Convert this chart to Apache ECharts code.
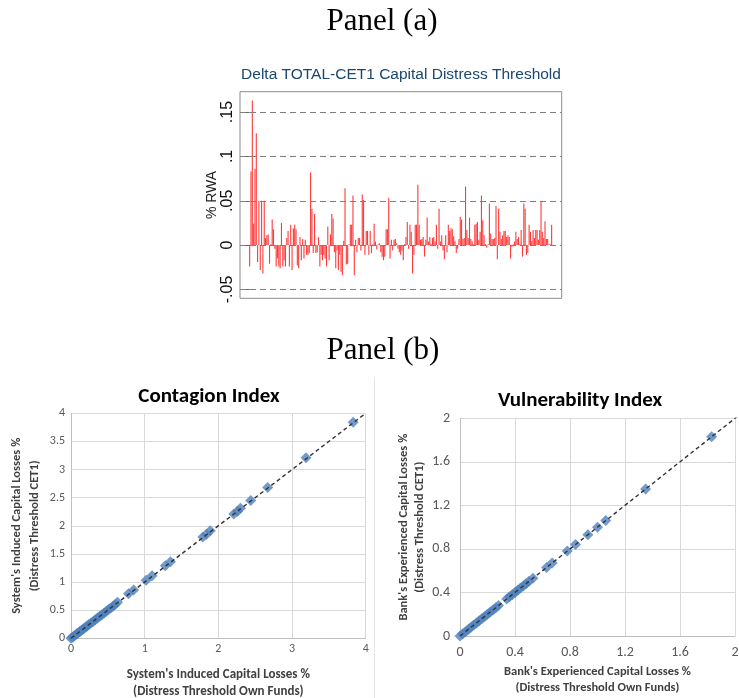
<!DOCTYPE html>
<html>
<head>
<meta charset="utf-8">
<script src="https://cdn.jsdelivr.net/npm/echarts@6/dist/echarts.min.js"></script>
<style>
html,body{margin:0;padding:0;background:#fff;}
#c{width:739px;height:698px;}
</style>
</head>
<body>
<div id="c"></div>
<script>
// ---------- Panel (a): Delta TOTAL-CET1 capital distress threshold (% RWA) ----------
const deltaValues = [
-0.024,0.083,0.163,0.024,0.086,0.126,-0.019,0.050,-0.028,0.050,-0.032,0.050,0.008,0.011,0.012,-0.021,0.001,0.029,0.018,-0.004,-0.024,-0.015,-0.024,-0.026,0.025,-0.024,-0.017,-0.024,0.008,0.016,-0.024,0.023,-0.028,0.019,0.023,0.018,-0.023,-0.026,0.009,-0.017,0.007,-0.015,0.006,-0.011,
-0.011,-0.009,0.082,0.041,-0.009,0.035,-0.009,-0.008,0.009,-0.024,-0.011,-0.017,-0.011,-0.015,-0.024,0.021,-0.017,0.012,0.035,0.030,-0.008,-0.026,-0.006,-0.028,-0.011,-0.030,-0.034,0.005,0.064,-0.022,-0.021,0.001,0.023,0.023,0.056,-0.034,0.006,-0.008,0.008,0.008,-0.006,0.057,0.051,-0.011,0.016,
0.016,-0.011,0.016,-0.009,0.001,0.024,0.004,-0.005,0.001,0.002,-0.008,-0.013,-0.017,-0.013,0.018,0.018,0.053,-0.015,0.006,-0.006,0.006,0.007,0.002,-0.004,-0.008,-0.011,-0.006,-0.017,0.001,0.009,0.026,-0.004,0.023,0.015,-0.032,-0.011,0.023,0.023,0.068,0.023,0.006,0.007,0.009,-0.013,0.006,
0.031,0.004,0.009,0.001,0.008,0.009,0.004,0.023,-0.004,0.041,0.004,0.011,-0.006,-0.016,0.011,-0.008,0.023,0.016,0.019,0.018,0.010,0.005,-0.009,-0.004,0.007,0.032,0.029,0.007,0.008,0.066,0.017,0.008,0.031,0.007,0.004,0.001,0.023,0.024,0.026,0.006,0.015,0.056,0.028,0.011,0.001,-0.003,0.001,
0.047,0.013,0.007,0.007,0.008,0.044,-0.016,0.041,0.015,0.007,0.011,0.016,0.016,0.009,0.011,0.009,-0.015,-0.002,0.001,0.004,0.015,0.007,0.009,0.001,0.017,-0.013,0.047,0.041,-0.011,-0.009,0.023,0.015,0.005,0.017,0.008,0.017,0.017,0.006,0.017,0.049,0.015,0.008,0.027,0.007,0.007,0.001,0.001,0.023
];
const deltaTicks = [-0.05, 0, 0.05, 0.1, 0.15];
const deltaTickLabels = ['-.05', '0', '.05', '.1', '.15'];

// ---------- Panel (b) left: Contagion Index ----------
const ciOwnFunds = [0.00,0.02,0.04,0.06,0.08,0.10,0.12,0.14,0.16,0.18,0.20,0.22,0.24,0.27,0.30,0.33,0.36,0.39,0.42,0.45,0.48,0.51,0.54,0.57,0.60,0.63,0.78,0.85,1.02,1.10,1.28,1.35,1.79,1.84,1.89,2.21,2.26,2.30,2.44,2.67,3.19,3.83];
const ciCET1     = [0.00,0.02,0.04,0.06,0.08,0.10,0.12,0.14,0.16,0.18,0.20,0.22,0.24,0.27,0.30,0.33,0.36,0.39,0.42,0.45,0.48,0.51,0.54,0.57,0.60,0.64,0.79,0.86,1.03,1.11,1.29,1.36,1.80,1.85,1.91,2.21,2.26,2.31,2.45,2.68,3.21,3.84];
const ciTrendX = [0, 4];
const ciTrendY = [0, 4];

// ---------- Panel (b) right: Vulnerability Index ----------
const viOwnFunds = [0.00,0.02,0.04,0.06,0.08,0.10,0.12,0.14,0.16,0.18,0.20,0.22,0.24,0.26,0.28,0.34,0.36,0.38,0.40,0.42,0.44,0.46,0.48,0.50,0.53,0.63,0.67,0.78,0.84,0.93,1.00,1.06,1.35,1.83];
const viCET1     = [0.00,0.02,0.04,0.06,0.08,0.10,0.12,0.14,0.16,0.18,0.20,0.22,0.24,0.26,0.28,0.34,0.36,0.38,0.40,0.42,0.44,0.46,0.48,0.50,0.53,0.63,0.67,0.78,0.84,0.93,1.00,1.06,1.35,1.83];
const viTrendX = [0, 2.05];
const viTrendY = [0, 2.05];

const zip = (a, b) => a.map((v, i) => [v, b[i]]);

const calib = "Carlito, Lato, sans-serif";
const arial = "'Liberation Sans', Arial, sans-serif";
const blue = '#4f81bd';
const fmtNum = v => (Number.isInteger(v) ? String(v) : v.toFixed(1));

const chart = echarts.init(document.getElementById('c'), null, {renderer: 'canvas'});

const option = {
  backgroundColor: '#fff',
  animation: false,
  graphic: [
    {type: 'text', x: 382, y: 22, style: {text: 'Panel (a)', fontFamily: "'Liberation Serif', serif", fontSize: 31, fill: '#000', align: 'center', verticalAlign: 'middle'}},
    {type: 'text', x: 383, y: 351, style: {text: 'Panel (b)', fontFamily: "'Liberation Serif', serif", fontSize: 31, fill: '#000', align: 'center', verticalAlign: 'middle'}},
    {type: 'text', x: 401, y: 75, style: {text: 'Delta TOTAL-CET1 Capital Distress Threshold', fontFamily: arial, fontSize: 15.5, fill: '#1a476f', align: 'center', verticalAlign: 'middle'}},
    {type: 'text', x: 209, y: 397, style: {text: 'Contagion Index', fontFamily: calib, fontSize: 21, fontWeight: 'bold', fill: '#000', align: 'center', verticalAlign: 'middle'}},
    {type: 'text', x: 580, y: 401, style: {text: 'Vulnerability Index', fontFamily: calib, fontSize: 21, fontWeight: 'bold', fill: '#000', align: 'center', verticalAlign: 'middle'}},
    {type: 'line', shape: {x1: 374.5, y1: 378, x2: 374.5, y2: 698}, style: {stroke: '#e6e6e6', lineWidth: 1}}
  ],
  grid: [
    {left: 240, top: 91.7, width: 321.7, height: 206.6, show: true, borderColor: '#8c8c8c', borderWidth: 1, backgroundColor: '#fff', outerBoundsMode: 'none'},
    {left: 71, top: 413.3, width: 294.7, height: 225, outerBoundsMode: 'none'},
    {left: 460, top: 418.3, width: 275, height: 217.7, outerBoundsMode: 'none'}
  ],
  xAxis: [
    {gridIndex: 0, type: 'value', min: -7.3, max: 235.6, axisLine: {show: false}, axisTick: {show: false}, axisLabel: {show: false}, splitLine: {show: false}},
    {gridIndex: 1, type: 'value', min: 0, max: 4, interval: 1,
      axisLine: {show: true, lineStyle: {color: '#bfbfbf'}}, axisTick: {show: false},
      axisLabel: {color: '#595959', fontFamily: calib, fontSize: 12, margin: 5},
      splitLine: {show: true, lineStyle: {color: '#d9d9d9'}},
      name: "System's Induced Capital Losses %\n(Distress Threshold Own Funds)", nameLocation: 'middle', nameGap: 28,
      nameTextStyle: {fontFamily: calib, fontSize: 13, fontWeight: 'bold', color: '#404040', lineHeight: 17}},
    {gridIndex: 2, type: 'value', min: 0, max: 2, interval: 0.4,
      axisLine: {show: true, lineStyle: {color: '#bfbfbf'}}, axisTick: {show: false},
      axisLabel: {color: '#595959', fontFamily: calib, fontSize: 14, margin: 9, formatter: fmtNum},
      splitLine: {show: true, lineStyle: {color: '#d9d9d9'}},
      name: "Bank's Experienced Capital Losses %\n(Distress Threshold Own Funds)", nameLocation: 'middle', nameGap: 28,
      nameTextStyle: {fontFamily: calib, fontSize: 12.5, fontWeight: 'bold', color: '#404040', lineHeight: 16}}
  ],
  yAxis: [
    {gridIndex: 0, type: 'value', min: -0.06, max: 0.173,
      axisLine: {show: false},
      axisTick: {show: true, customValues: deltaTicks, length: 4, lineStyle: {color: '#666'}},
      axisLabel: {show: true, customValues: deltaTicks, rotate: 90, margin: 4, color: '#111', fontFamily: arial, fontSize: 16,
        formatter: v => { const i = deltaTicks.findIndex(t => Math.abs(t - v) < 1e-9); return i >= 0 ? deltaTickLabels[i] : ''; }},
      splitLine: {show: false},
      name: '% RWA', nameLocation: 'middle', nameRotate: 90, nameGap: 21,
      nameTextStyle: {fontFamily: arial, fontSize: 14, color: '#222'}},
    {gridIndex: 1, type: 'value', min: 0, max: 4, interval: 0.5,
      axisLine: {show: true, lineStyle: {color: '#bfbfbf'}}, axisTick: {show: false},
      axisLabel: {color: '#595959', fontFamily: calib, fontSize: 12, margin: 6},
      splitLine: {show: true, lineStyle: {color: '#d9d9d9'}},
      name: "System's Induced Capital Losses %\n(Distress Threshold CET1)", nameLocation: 'middle', nameRotate: 90, nameGap: 27,
      nameTextStyle: {fontFamily: calib, fontSize: 12.5, fontWeight: 'bold', color: '#404040', lineHeight: 18}},
    {gridIndex: 2, type: 'value', min: 0, max: 2, interval: 0.4,
      axisLine: {show: true, lineStyle: {color: '#bfbfbf'}}, axisTick: {show: false},
      axisLabel: {color: '#595959', fontFamily: calib, fontSize: 14, margin: 10, formatter: fmtNum},
      splitLine: {show: true, lineStyle: {color: '#d9d9d9'}},
      name: "Bank's Experienced Capital Losses %\n(Distress Threshold CET1)", nameLocation: 'middle', nameRotate: 90, nameGap: 28,
      nameTextStyle: {fontFamily: calib, fontSize: 12.5, fontWeight: 'bold', color: '#404040', lineHeight: 16}}
  ],
  series: [
    {type: 'bar', xAxisIndex: 0, yAxisIndex: 0, barWidth: 1.1, silent: true,
      data: deltaValues.map((v, i) => [i, v]),
      itemStyle: {color: 'rgba(255,35,35,0.9)'},
      markLine: {silent: true, symbol: 'none', label: {show: false},
        lineStyle: {color: '#7f7f7f', type: [6, 4], width: 1.2},
        data: deltaTicks.map(v => ({yAxis: v}))}},
    {type: 'scatter', xAxisIndex: 1, yAxisIndex: 1, symbol: 'diamond', symbolSize: 11,
      itemStyle: {color: blue}, data: zip(ciOwnFunds, ciCET1)},
    {type: 'line', xAxisIndex: 1, yAxisIndex: 1, symbol: 'none', silent: true,
      lineStyle: {color: '#333', width: 1.4, type: [4, 3]}, data: zip(ciTrendX, ciTrendY)},
    {type: 'scatter', xAxisIndex: 2, yAxisIndex: 2, symbol: 'diamond', symbolSize: 11,
      itemStyle: {color: blue}, data: zip(viOwnFunds, viCET1)},
    {type: 'line', xAxisIndex: 2, yAxisIndex: 2, symbol: 'none', silent: true, clip: true,
      lineStyle: {color: '#333', width: 1.4, type: [4, 3]}, data: zip(viTrendX, viTrendY)}
  ]
};
chart.setOption(option);
</script>
</body>
</html>
